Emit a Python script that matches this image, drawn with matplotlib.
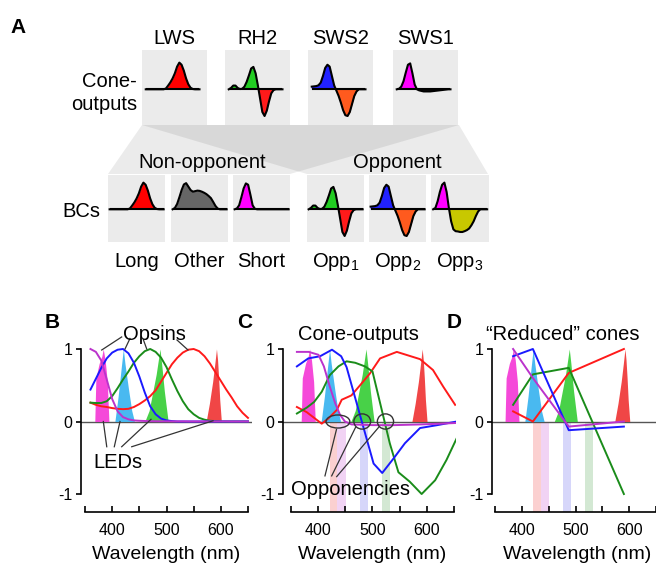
import numpy as np
import matplotlib
matplotlib.use("Agg")
from matplotlib import pyplot as plt
from matplotlib.patches import Ellipse, Polygon

plt.rcParams["font.family"] = ["Liberation Sans", "DejaVu Sans"]
plt.rcParams["mathtext.fontset"] = "custom"
plt.rcParams["mathtext.rm"] = "Liberation Sans"
plt.rcParams["axes.unicode_minus"] = False

W, H = 656, 565

# ---------------- panel A: schematic response shapes (25 samples, arbitrary axis)
mini_x = np.linspace(0, 1, 25)
cone_lws = [0, 0, 0, 0, 0, 0, 0, 0, 0, 0.03, 0.14, 0.26, 0.41, 0.6, 0.85, 1.0,
            0.92, 0.7, 0.41, 0.19, 0.06, 0.01, 0, 0, 0]
cone_rh2 = [0, 0.05, 0.14, 0.14, 0.05, 0.01, 0.02, 0.1, 0.28, 0.52, 0.78, 0.84,
            0.6, 0.15, -0.35, -0.85, -1.0, -0.8, -0.45, -0.15, -0.03, 0, 0, 0, 0]
cone_sws2 = [0.1, 0.11, 0.12, 0.15, 0.25, 0.5, 0.8, 0.92, 0.85, 0.5, 0.15, -0.05,
             -0.25, -0.5, -0.78, -0.97, -1.0, -0.85, -0.55, -0.25, -0.08, 0, 0, 0, 0]
cone_sws1 = [0, 0.02, 0.1, 0.3, 0.62, 0.92, 0.97, 0.6, 0.18, 0.0, -0.04, -0.06,
             -0.08, -0.08, -0.08, -0.08, -0.07, -0.06, -0.05, -0.04, -0.03, -0.02,
             -0.01, 0, 0]
bc_other = [0, 0.05, 0.2, 0.45, 0.72, 0.93, 0.98, 0.85, 0.72, 0.66, 0.68, 0.7,
            0.69, 0.66, 0.62, 0.57, 0.5, 0.42, 0.28, 0.13, 0.03, 0, 0, 0, 0]
bc_short = [0, 0.03, 0.15, 0.45, 0.78, 0.97, 0.92, 0.55, 0.15, 0.02, 0, 0, 0, 0,
            0, 0, 0, 0, 0, 0, 0, 0, 0, 0, 0]
bc_opp3 = [0, 0.05, 0.3, 0.65, 0.92, 1.0, 0.65, 0.05, -0.45, -0.75, -0.82, -0.83,
           -0.85, -0.85, -0.82, -0.78, -0.72, -0.6, -0.45, -0.25, -0.08, 0, 0, 0, 0]

cone_names = ["LWS", "RH2", "SWS2", "SWS1"]
cone_shapes = [cone_lws, cone_rh2, cone_sws2, cone_sws1]
cone_colors = [("#ff0000", "#ff0000"), ("#22cc22", "#ff1a1a"),
               ("#2222ff", "#ff5a1e"), ("#ff00ff", "#111111")]
bc_names = ["Long", "Other", "Short", "Opp$_1$", "Opp$_2$", "Opp$_3$"]
bc_shapes = [cone_lws, bc_other, bc_short, cone_rh2, cone_sws2, bc_opp3]
bc_colors = [("#ff0000", "#ff0000"), ("#666666", "#666666"), ("#ff00ff", "#ff00ff"),
             ("#22cc22", "#ff1a1a"), ("#2222ff", "#ff5a1e"), ("#ff00ff", "#c8c800")]

# ---------------- panel B: opsin templates and LED spectra
wl = np.arange(360, 651, 10)
ops_sws1 = [1.0, 0.96, 0.84, 0.58, 0.31, 0.14, 0.06, 0.03, 0.015, 0.01, 0.007, 0.005,
            0.004, 0.003, 0.003, 0.002, 0.002, 0.002, 0.001, 0.001, 0.001, 0.001,
            0.001, 0.001, 0.001, 0.001, 0, 0, 0, 0]
ops_sws2 = [0.44, 0.59, 0.74, 0.87, 0.95, 0.99, 1.0, 0.94, 0.81, 0.62, 0.4, 0.21,
            0.1, 0.04, 0.015, 0.006, 0, 0, 0, 0, 0, 0, 0, 0, 0, 0, 0, 0, 0, 0]
ops_rh2 = [0.26, 0.255, 0.255, 0.28, 0.35, 0.46, 0.58, 0.69, 0.81, 0.9, 0.97, 1.0,
           0.96, 0.88, 0.75, 0.58, 0.42, 0.28, 0.17, 0.1, 0.05, 0.025, 0.01, 0.005,
           0, 0, 0, 0, 0, 0]
ops_lws = [0.26, 0.23, 0.21, 0.2, 0.185, 0.175, 0.17, 0.175, 0.2, 0.24, 0.29, 0.35,
           0.43, 0.55, 0.67, 0.79, 0.88, 0.95, 0.99, 1.0, 0.97, 0.9, 0.8, 0.68, 0.56,
           0.44, 0.33, 0.21, 0.12, 0.05]

led_uv_wl = [368, 370, 376, 381, 383.5, 387, 391, 394]
led_uv = [0, 0.6, 0.8, 0.9, 1.0, 0.85, 0.55, 0]
led_blue_wl = [405, 411, 417.5, 420.5, 423.5, 430, 436, 441]
led_blue = [0, 0.35, 0.8, 1.0, 0.8, 0.45, 0.15, 0]
led_green_wl = [460, 468, 475, 481, 485, 488, 491, 496, 503]
led_green = [0, 0.15, 0.42, 0.65, 0.85, 1.0, 0.8, 0.42, 0]
led_red_wl = [573, 579, 585, 589, 592, 594, 596, 598, 601]
led_red = [0, 0.25, 0.55, 0.8, 1.0, 0.85, 0.6, 0.3, 0]

# ---------------- panel C: cone outputs
c_red_wl = [360, 378, 392, 406, 418, 434, 443, 461, 477, 495, 514, 545, 588, 612, 631, 653]
c_red = [0.2, 0.13, 0.05, -0.03, 0.04, 0.16, 0.3, 0.36, 0.5, 0.66, 0.87, 0.96, 0.86,
         0.71, 0.48, 0.23]
c_green_wl = [360, 378, 392, 406, 421, 437, 452, 468, 486, 500, 532, 548, 569, 591, 616, 637, 656]
c_green = [0.11, 0.19, 0.27, 0.41, 0.64, 0.76, 0.83, 0.81, 0.76, 0.69, -0.3, -0.7,
           -0.83, -1.0, -0.81, -0.53, -0.23]
c_blue_wl = [360, 381, 403, 425, 442, 452, 502, 518, 540, 560, 588, 620, 656]
c_blue = [0.76, 0.87, 0.9, 0.99, 0.9, 0.75, -0.58, -0.71, -0.5, -0.3, -0.09, -0.05, 0.0]
c_uv_wl = [360, 382, 400, 410, 421, 431, 440, 449, 461, 500, 540, 590, 625, 656]
c_uv = [0.96, 0.96, 0.92, 0.76, 0.48, 0.25, 0.09, 0.0, -0.04, -0.05, -0.05, -0.04,
        -0.03, -0.02]

# ---------------- panel D: "reduced" cones, sampled at the LED peaks
d_wl = [383, 420, 487, 590]
d_red = [0.14, 0.0, 0.67, 1.0]
d_green = [0.23, 0.65, 0.74, -1.0]
d_blue = [0.9, 1.0, -0.12, -0.07]
d_uv = [1.0, 0.6, -0.07, 0.0]

# opponency bands (nm) shown below zero in C and D
band_lo = [421, 435, 476, 517]
band_hi = [435, 451, 491, 532]
band_colors = ["#fbd0d0", "#f1d3f4", "#d6d6fa", "#d3e8d3"]
opp_centers = [436, 481, 524]
opp_widths = [44, 31, 30]
opp_heights = [0.18, 0.21, 0.21]

line_red, line_green, line_blue, line_uv = "#ff1a1a", "#1a8c1a", "#1a1aff", "#bb33cc"
led_colors = ["#f53fd7", "#3fb6f0", "#3ecf3e", "#f03c3c"]

fig = plt.figure(figsize=(W / 100, H / 100), dpi=100)
bg = fig.add_axes([0, 0, 1, 1], zorder=0)
bg.set_xlim(0, W)
bg.set_ylim(H, 0)
bg.axis("off")
# overlay for all texts, so that they sit above the panels
fg = fig.add_axes([0, 0, 1, 1], zorder=10)
fg.set_xlim(0, W)
fg.set_ylim(H, 0)
fg.axis("off")

FS = 14.5
TICK_FS = 11.5


def px_axes(left, top, width, height, z=1):
    return fig.add_axes([left / W, 1 - (top + height) / H, width / W, height / H], zorder=z)


def mini(ax, y, colors, xlim, ylim):
    y = np.asarray(y, dtype=float)
    ax.set_facecolor("#ebebeb")
    ax.fill_between(mini_x, y, 0, where=y >= 0, interpolate=True, color=colors[0], lw=0)
    ax.fill_between(mini_x, y, 0, where=y <= 0, interpolate=True, color=colors[1], lw=0)
    ax.plot([0, 1], [0, 0], color="k", lw=1.5, solid_capstyle="butt")
    ax.plot(mini_x, y, color="k", lw=1.5)
    ax.set_xlim(*xlim)
    ax.set_ylim(*ylim)
    ax.set_xticks([])
    ax.set_yticks([])
    for s in ax.spines.values():
        s.set_visible(False)


# ---- panel A layout
fg.text(10, 33, "A", fontsize=15, fontweight="bold", ha="left", va="baseline")
for (bl, br) in [(108, 290), (307, 488)]:
    bg.add_patch(Polygon([(142, 125), (459, 125), (br, 174), (bl, 174)], closed=True,
                         facecolor="k", alpha=0.08, edgecolor="none"))

cone_left = [142, 225, 308, 393]
for left, name, shape, cols in zip(cone_left, cone_names, cone_shapes, cone_colors):
    ax = px_axes(left, 50, 65, 75)
    mini(ax, shape, cols, (-0.07, 1.14), (-1.337, 1.472))
    fg.text(left + 32.5, 44, name, fontsize=FS, ha="center", va="baseline")
fg.text(137, 87, "Cone-", fontsize=FS, ha="right", va="baseline")
fg.text(137, 110, "outputs", fontsize=FS, ha="right", va="baseline")

bc_left = [108, 171, 233, 307, 369, 431.5]
for left, name, shape, cols in zip(bc_left, bc_names, bc_shapes, bc_colors):
    ax = px_axes(left, 175, 57, 67)
    mini(ax, shape, cols, (-0.03, 1.025), (-1.225, 1.285))
    fg.text(left + 28.5, 267, name, fontsize=FS, ha="center", va="baseline")
fg.text(100, 217, "BCs", fontsize=FS, ha="right", va="baseline")
fg.text(202, 167.5, "Non-opponent", fontsize=FS, ha="center", va="baseline")
fg.text(397, 167.5, "Opponent", fontsize=FS, ha="center", va="baseline")


# ---- spectral panels
def spectrum_axes(left, right, xlim):
    ax = px_axes(left, 345, right - left, 167, z=2)
    ax.patch.set_visible(False)
    ax.set_xlim(*xlim)
    ax.set_ylim(-1.248, 1.055)
    for s in ("top", "right"):
        ax.spines[s].set_visible(False)
    for s in ("left", "bottom"):
        ax.spines[s].set_linewidth(1.2)
    ax.spines["left"].set_bounds(-1, 1)
    ax.spines["bottom"].set_bounds(350, 650)
    ax.set_xticks(np.arange(350, 651, 50))
    ax.set_xticklabels(["", "400", "", "500", "", "600", ""])
    ax.set_yticks([-1, 0, 1])
    ax.set_yticklabels(["-1", "0", "1"])
    ax.tick_params(axis="x", direction="in", length=4, width=1.2, pad=8, labelsize=TICK_FS)
    ax.tick_params(axis="y", direction="out", length=3.5, width=1.2, pad=2.5, labelsize=TICK_FS)
    ax.axhline(0, color="#555555", lw=1.0, zorder=1)
    return ax


def draw_leds(ax):
    for x, y, c in zip([led_uv_wl, led_blue_wl, led_green_wl, led_red_wl],
                       [led_uv, led_blue, led_green, led_red], led_colors):
        ax.fill_between(x, y, 0, color=c, lw=0, alpha=0.95, zorder=2)


def draw_bands(ax):
    for lo, hi, c in zip(band_lo, band_hi, band_colors):
        ax.axvspan(lo, hi, ymin=0, ymax=1.248 / 2.303, color=c, lw=0, zorder=0)


axB = spectrum_axes(81, 252, (342.6, 657.4))
draw_leds(axB)
for y, c in zip([ops_lws, ops_rh2, ops_sws2, ops_sws1], [line_red, line_green, line_blue, line_uv]):
    axB.plot(wl, y, color=c, lw=1.4, zorder=3)
for (x0, y0), (x1, y1) in [((380.7, 0.986), (417.5, 1.166)), ((423.6, 1.0), (432.8, 1.145)),
                           ((463.6, 1.0), (457.3, 1.13)), ((539.6, 0.986), (519.3, 1.124))]:
    axB.plot([x0, x1], [y0, y1], color="#333333", lw=0.9, clip_on=False, zorder=4)
for (x0, y0), (x1, y1) in [((383.7, 0.0), (390, -0.348)), ((414.4, 0.0), (403.9, -0.348)),
                           ((471.5, 0.03), (417.5, -0.348)), ((585.6, 0.01), (436, -0.348))]:
    axB.plot([x0, x1], [y0, y1], color="#333333", lw=0.9, zorder=4)

axC = spectrum_axes(283, 456, (334.3, 654.6))
draw_bands(axC)
draw_leds(axC)
for x, y, c in zip([c_red_wl, c_green_wl, c_blue_wl, c_uv_wl], [c_red, c_green, c_blue, c_uv],
                   [line_red, line_green, line_blue, line_uv]):
    axC.plot(x, y, color=c, lw=1.4, zorder=3)
for cx, w, h in zip(opp_centers, opp_widths, opp_heights):
    axC.add_patch(Ellipse((cx, 0), w, h, facecolor="none", edgecolor="#333333", lw=1.0, zorder=5))
for (x0, y0), (x1, y1) in [((412, -0.75), (433.3, -0.11)), ((424.4, -0.75), (468.5, -0.083)),
                           ((433.7, -0.76), (512, -0.075))]:
    axC.plot([x0, x1], [y0, y1], color="#333333", lw=0.9, zorder=4)

axD = spectrum_axes(492, 656, (343.6, 644.5))
draw_bands(axD)
draw_leds(axD)
for y, c in zip([d_red, d_green, d_blue, d_uv], [line_red, line_green, line_blue, line_uv]):
    axD.plot(d_wl, y, color=c, lw=1.4, zorder=3)

# ---- panel labels and texts
fg.text(45, 328, "B", fontsize=15, fontweight="bold", ha="left", va="baseline")
fg.text(237, 328, "C", fontsize=15, fontweight="bold", ha="left", va="baseline")
fg.text(447, 328, "D", fontsize=15, fontweight="bold", ha="left", va="baseline")
fg.text(154, 340.5, "Opsins", fontsize=FS, ha="center", va="baseline")
fg.text(358, 340.5, "Cone-outputs", fontsize=FS, ha="center", va="baseline")
fg.text(563, 340.5, "\u201cReduced\u201d cones", fontsize=FS, ha="center", va="baseline")
fg.text(118, 468, "LEDs", fontsize=FS, ha="center", va="baseline")
fg.text(351, 495, "Opponencies", fontsize=FS, ha="center", va="baseline")
for cx in (166.5, 372.5, 577):
    fg.text(cx, 559, "Wavelength (nm)", fontsize=14, ha="center", va="baseline")

fig.savefig("out.png", dpi=100)
